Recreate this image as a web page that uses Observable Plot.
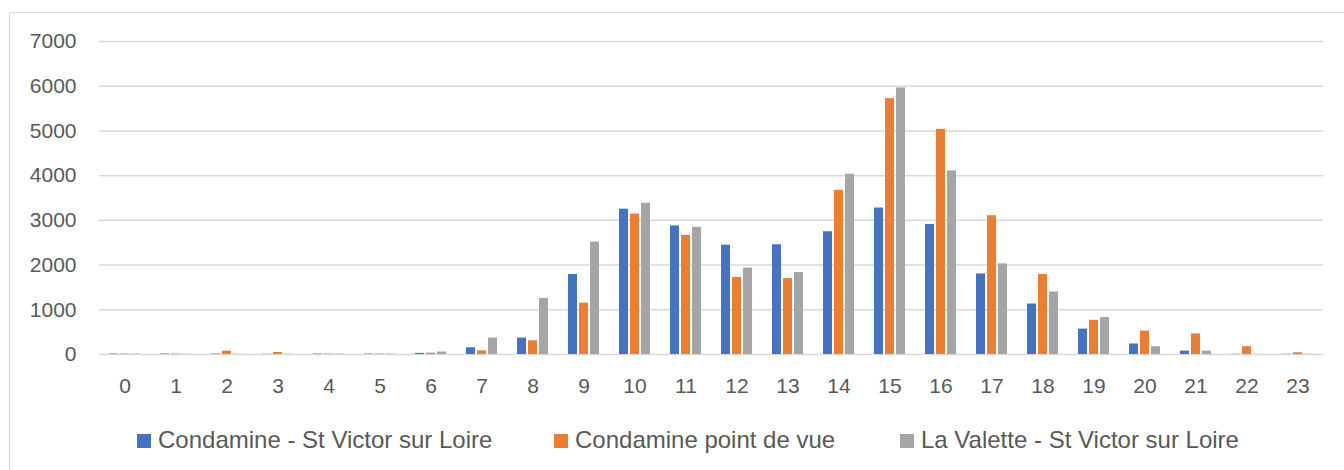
<!DOCTYPE html>
<html>
<head>
<meta charset="utf-8">
<script src="https://cdn.jsdelivr.net/npm/d3@7"></script>
<script src="https://cdn.jsdelivr.net/npm/@observablehq/plot@0.6"></script>
<style>
  html, body { margin: 0; padding: 0; background: #fff; }
  body { position: relative; width: 1344px; height: 470px; overflow: hidden; font-family: "Liberation Sans", Arial, sans-serif; }
  #frame { position: absolute; left: 9px; top: 12px; width: 1400px; height: 500px; border-left: 1.5px solid #d9d9d9; border-top: 1.5px solid #d9d9d9; }
  #chart { position: absolute; left: 0; top: 0; }
  #legend { position: absolute; left: 0; top: 424px; width: 1344px; height: 32px; font-size: 24px; color: #595959; white-space: nowrap; }
  .item { position: absolute; top: 0; display: flex; align-items: center; height: 32px; }
  .swatch { width: 14px; height: 14px; margin-right: 7px; margin-top: 2px; }
</style>
</head>
<body>
<div id="frame"></div>
<div id="chart"></div>
<div id="legend"></div>
<script>
const hours = ["0","1","2","3","4","5","6","7","8","9","10","11","12","13","14","15","16","17","18","19","20","21","22","23"];
const seriesNames = ["Condamine - St Victor sur Loire", "Condamine point de vue", "La Valette - St Victor sur Loire"];
const seriesColors = ["#4472C4", "#ED7D31", "#A5A5A5"];
const yTicks = [0, 1000, 2000, 3000, 4000, 5000, 6000, 7000];

const condamineStVictor = [10, 10, 10, 5, 10, 10, 25, 150, 368, 1790, 3250, 2875, 2445, 2455, 2745, 3276, 2909, 1802, 1129, 568, 235, 76, 5, 5];
const condaminePointDeVue = [10, 10, 75, 45, 10, 10, 30, 83, 308, 1149, 3142, 2664, 1724, 1698, 3672, 5722, 5034, 3104, 1788, 765, 523, 462, 174, 38];
const laValetteStVictor = [10, 5, 5, 5, 10, 10, 55, 368, 1256, 2515, 3381, 2843, 1933, 1832, 4031, 5961, 4106, 2027, 1399, 826, 174, 76, 5, 5];

const seriesValues = [condamineStVictor, condaminePointDeVue, laValetteStVictor];
const data = hours.flatMap((h, i) => seriesNames.map((s, j) => ({hour: h, series: s, value: seriesValues[j][i]})));

const chart = Plot.plot({
  width: 1344,
  height: 400,
  marginTop: 41,
  marginBottom: 46,
  marginLeft: 98,
  marginRight: 21,
  style: {fontFamily: "'Liberation Sans', Arial, sans-serif", fontSize: "21px", color: "#595959", background: "transparent", overflow: "visible"},
  fx: {domain: hours, padding: 0, axis: "bottom", tickSize: 0, tickPadding: 24, label: null},
  x: {domain: seriesNames, axis: null, paddingInner: 0.18, paddingOuter: 0.84},
  y: {domain: [0, 7000], ticks: yTicks, tickFormat: d => String(d), tickSize: 0, tickPadding: 23, label: null},
  color: {domain: seriesNames, range: seriesColors},
  marks: [
    Plot.ruleY(yTicks, {stroke: "#d9d9d9", strokeWidth: 1.5}),
    Plot.barY(data, {fx: "hour", x: "series", y: "value", fill: "series"})
  ]
});
document.getElementById("chart").appendChild(chart);

const legendLeft = [137, 554, 900];
const legend = document.getElementById("legend");
seriesNames.forEach((s, j) => {
  const item = document.createElement("div");
  item.className = "item";
  item.style.left = legendLeft[j] + "px";
  const sw = document.createElement("div");
  sw.className = "swatch";
  sw.style.background = seriesColors[j];
  const t = document.createElement("span");
  t.textContent = s;
  item.appendChild(sw);
  item.appendChild(t);
  legend.appendChild(item);
});
</script>
</body>
</html>
